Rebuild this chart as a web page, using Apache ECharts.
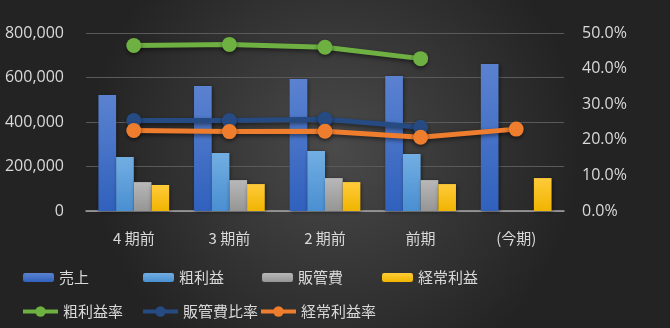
<!DOCTYPE html>
<html>
<head>
<meta charset="utf-8">
<script src="https://cdn.jsdelivr.net/npm/echarts@6/dist/echarts.min.js"></script>
<style>
  html, body { margin: 0; padding: 0; }
  #chart { width: 670px; height: 328px; }
</style>
</head>
<body>
<div id="chart"></div>
<script>
// 期
const periods = ['4 期前', '3 期前', '2 期前', '前期', '(今期)']
// 金額（円）
const sales = [521000, 562000, 593000, 607000, 661000]
const grossProfit = [243000, 261000, 270000, 256000, null]
const sgaCost = [130000, 139000, 148000, 139000, null]
const ordinaryProfit = [117000, 121000, 130000, 121000, 148000]
// 比率
const grossRate = [0.465, 0.468, 0.46, 0.428, null]
const sgaRate = [0.254, 0.254, 0.258, 0.235, null]
const ordinaryRate = [0.226, 0.223, 0.224, 0.207, 0.23]

const font = '"Open Sans", "Noto Sans CJK JP", sans-serif'
const textColor = '#d9d9d9'

function grad(top, bottom) {
    return new echarts.graphic.LinearGradient(0, 0, 0, 1, [
        { offset: 0, color: top },
        { offset: 1, color: bottom }
    ])
}

function bar(name, data, top, bottom) {
    return {
        name: name,
        type: 'bar',
        data: data,
        barGap: '0%',
        barCategoryGap: '26%',
        itemStyle: {
            color: grad(top, bottom),
            shadowColor: 'rgba(0,0,0,0.45)',
            shadowBlur: 4,
            shadowOffsetX: 1,
            shadowOffsetY: 1
        }
    }
}

function line(name, data, color) {
    return {
        name: name,
        type: 'line',
        yAxisIndex: 1,
        data: data,
        symbol: 'circle',
        symbolSize: 15,
        connectNulls: false,
        lineStyle: {
            color: color,
            width: 5,
            shadowColor: 'rgba(0,0,0,0.5)',
            shadowBlur: 4,
            shadowOffsetY: 2
        },
        itemStyle: {
            color: color,
            shadowColor: 'rgba(0,0,0,0.5)',
            shadowBlur: 4,
            shadowOffsetY: 2
        },
        z: 5
    }
}

// 凡例（1項目ずつ配置）
function legendItem(name, left, top, width, height, isLine) {
    const item = {
        data: [name],
        left: left,
        top: top,
        itemWidth: width,
        itemHeight: height,
        textStyle: { color: textColor, fontFamily: '"Noto Sans CJK JP", sans-serif', fontSize: 15 }
    }
    if (isLine) {
        item.lineStyle = { width: 4, shadowBlur: 0 }
        item.itemStyle = { shadowBlur: 0 }
    }
    return item
}

const option = {
    animation: false,
    backgroundColor: {
        type: 'radial', x: 0.5, y: 0.45, r: 0.75,
        colorStops: [
            { offset: 0, color: '#4a4a4a' },
            { offset: 1, color: '#232323' }
        ]
    },
    textStyle: { fontFamily: font },
    grid: { left: 86, right: 106, top: 33, bottom: 117 },
    legend: [
        legendItem('売上', 18, 265, 31, 9),
        legendItem('粗利益', 138, 265, 31, 9),
        legendItem('販管費', 257, 265, 31, 9),
        legendItem('経常利益', 377, 265, 31, 9),
        legendItem('粗利益率', 16, 299, 35, 13, true),
        legendItem('販管費比率', 136, 299, 35, 13, true),
        legendItem('経常利益率', 254, 299, 35, 13, true)
    ],
    xAxis: {
        type: 'category',
        data: periods,
        axisLine: { lineStyle: { color: '#a6a6a6', width: 1.5 } },
        axisTick: { show: false },
        axisLabel: { color: textColor, fontSize: 15, margin: 20, fontFamily: '"Noto Sans CJK JP", sans-serif' }
    },
    yAxis: [
        {
            type: 'value',
            min: 0,
            max: 800000,
            interval: 200000,
            axisLine: { show: false },
            axisTick: { show: false },
            splitLine: { lineStyle: { color: '#5a5a5a' } },
            axisLabel: {
                color: textColor,
                fontSize: 16,
                margin: 22,
                formatter: (v) => v.toLocaleString('en-US')
            }
        },
        {
            type: 'value',
            min: 0,
            max: 0.5,
            interval: 0.1,
            axisLine: { show: false },
            axisTick: { show: false },
            splitLine: { show: false },
            axisLabel: {
                color: textColor,
                fontSize: 16,
                margin: 18,
                formatter: (v) => (v * 100).toFixed(1) + '%'
            }
        }
    ],
    series: [
        bar('売上', sales, '#5b82d0', '#3061bd'),
        bar('粗利益', grossProfit, '#72aee2', '#4a8fd1'),
        bar('販管費', sgaCost, '#b8b8b8', '#959595'),
        bar('経常利益', ordinaryProfit, '#ffcb3a', '#f0b400'),
        line('粗利益率', grossRate, '#6fb043'),
        line('販管費比率', sgaRate, '#264a82'),
        line('経常利益率', ordinaryRate, '#ef7d2e')
    ]
}

const myChart = echarts.init(document.getElementById('chart'))
myChart.setOption(option)
window.addEventListener('resize', () => {
    myChart.resize()
})
</script>
</body>
</html>
